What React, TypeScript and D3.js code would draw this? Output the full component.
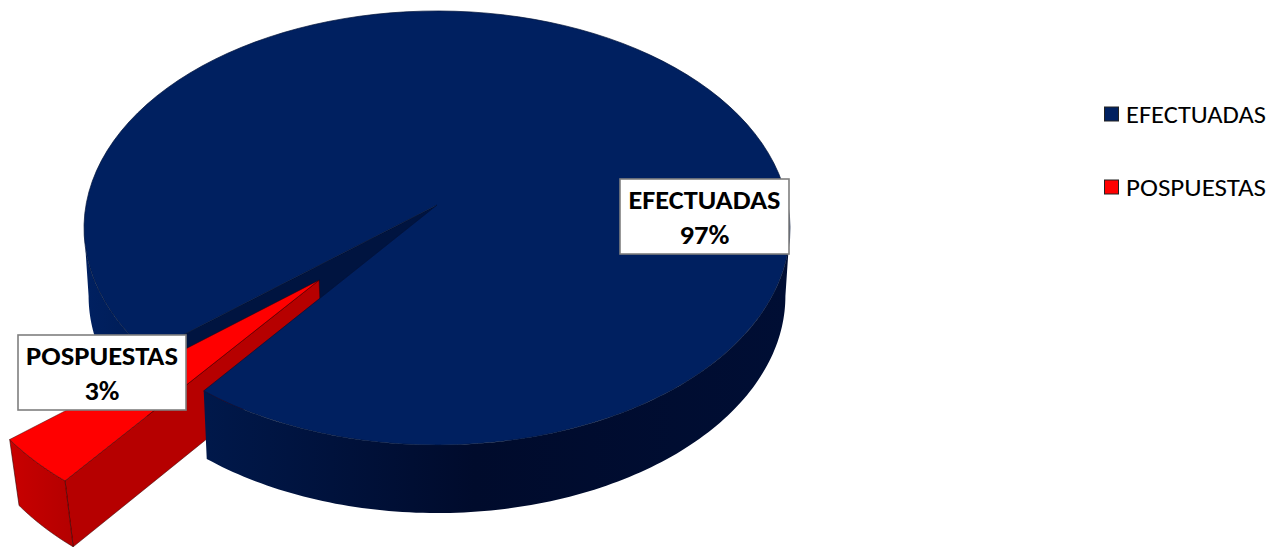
import React from "react";
import * as d3 from "d3";

const categories = ["EFECTUADAS", "POSPUESTAS"];
const values = [96.5, 3.5];
const percentLabels = ["97%", "3%"];
const topColors = ["#002060", "#FF0000"];

const W = 1272, H = 547;
const cx = 437, cy = 205, R = 351, S = 214.6, K = 0.106;
const explode = 0.468;
const FONT = "Carlito, Calibri, Lato, sans-serif";

const pieGen = d3.pie<number>().sort(null).startAngle((230.1 * Math.PI) / 180).endAngle((230.1 * Math.PI) / 180 + 2 * Math.PI);
const slices = pieGen(values);

type P = [number, number];
type Lift = { shrink: number; depth: number };
const NAVY_LIFT: Lift = { shrink: 0.987, depth: 68 };
const RED_LIFT: Lift = { shrink: 0.978, depth: 66 };

const project = (u: number, v: number, low?: Lift): P => {
  const w = 1 - K * v;
  const x = (R * u) / w, y = (S * v) / w;
  return low ? [cx + x * low.shrink, cy + y + low.depth] : [cx + x, cy + y];
};
const ringPoint = (a: number, low?: Lift, ou = 0, ov = 0): P => project(Math.sin(a) + ou, -Math.cos(a) + ov, low);
const arcPts = (a0: number, a1: number, low?: Lift, ou = 0, ov = 0): P[] =>
  d3.range(0, 121).map((i) => ringPoint(a0 + ((a1 - a0) * i) / 120, low, ou, ov));
const line = d3.line<P>().curve(d3.curveLinear);
const closed = (pts: P[]) => line(pts) + "Z";

const [navy, red] = slices;
const mid = (red.startAngle + red.endAngle) / 2;
const ou = Math.sin(mid) * explode, ov = -Math.cos(mid) * explode;

// silhouette angles of the perspective ellipse
const leftExtreme = 1.5 * Math.PI - Math.asin(K);
const rightExtreme = 2.5 * Math.PI + Math.asin(K);

const navyTop = closed([project(0, 0), ...arcPts(navy.startAngle, navy.endAngle)]);
const navyWall = (a0: number, a1: number) => closed([...arcPts(a0, a1), ...arcPts(a0, a1, NAVY_LIFT).reverse()]);
const navyLeft = navyWall(navy.startAngle, leftExtreme);
const navyFront = navyWall(rightExtreme, navy.endAngle);
const navyCut = closed([project(0, 0), ringPoint(navy.startAngle), ringPoint(navy.startAngle, NAVY_LIFT), project(0, 0, NAVY_LIFT)]);

const redTop = closed([project(ou, ov), ...arcPts(red.startAngle, red.endAngle, undefined, ou, ov)]);
const redOuter = closed([...arcPts(red.startAngle, red.endAngle, undefined, ou, ov), ...arcPts(red.startAngle, red.endAngle, RED_LIFT, ou, ov).reverse()]);
const redSide = closed([project(ou, ov), ringPoint(red.startAngle, undefined, ou, ov), ringPoint(red.startAngle, RED_LIFT, ou, ov), project(ou, ov, RED_LIFT)]);

const legendY = d3.scalePoint<string>().domain(categories).range([114, 187]);

const dataBoxes = [
  { x: 620, y: 179, w: 169, h: 75, nameW: 152, pctW: 50 },
  { x: 18, y: 335, w: 168, h: 75, nameW: 152, pctW: 35 },
];

export default function App() {
  return (
    <svg width={W} height={H} viewBox={`0 0 ${W} ${H}`} style={{ position: "absolute", left: 0, top: 0, display: "block", background: "#fff" }}>
      <defs>
        <linearGradient id="navyWall" gradientUnits="userSpaceOnUse" x1={88} x2={790} y1={0} y2={0}>
          <stop offset="0" stopColor="#002060" />
          <stop offset="0.17" stopColor="#00184A" />
          <stop offset="0.55" stopColor="#000B2C" />
          <stop offset="1" stopColor="#000E34" />
        </linearGradient>
        <linearGradient id="redWall" gradientUnits="userSpaceOnUse" x1={10} x2={72} y1={0} y2={0}>
          <stop offset="0" stopColor="#C80000" />
          <stop offset="1" stopColor="#B40000" />
        </linearGradient>
      </defs>
      <path d={navyLeft} fill="url(#navyWall)" />
      <path d={navyCut} fill="#001440" stroke="#000" strokeWidth={0.4} />
      <path d={redSide} fill="#B60000" stroke="#300" strokeWidth={0.5} />
      <path d={redOuter} fill="url(#redWall)" stroke="#300" strokeWidth={0.6} />
      <path d={redTop} fill={topColors[1]} stroke="#400" strokeWidth={0.5} />
      <path d={navyFront} fill="url(#navyWall)" />
      <path d={navyTop} fill={topColors[0]} stroke="#00123a" strokeWidth={0.7} />
      {categories.map((c, i) => {
        const b = dataBoxes[i];
        const mx = b.x + b.w / 2;
        return (
          <g key={c}>
            <rect x={b.x} y={b.y} width={b.w} height={b.h} fill="#fff" stroke="#7F7F7F" strokeWidth={1.6} />
            <text x={mx} y={b.y + 30} textAnchor="middle" fontFamily={FONT} fontWeight={700} fontSize={27} textLength={b.nameW} lengthAdjust="spacingAndGlyphs" fill="#000">{c}</text>
            <text x={mx} y={b.y + 65} textAnchor="middle" fontFamily={FONT} fontWeight={700} fontSize={27} textLength={b.pctW} lengthAdjust="spacingAndGlyphs" fill="#000">{percentLabels[i]}</text>
          </g>
        );
      })}
      {categories.map((c, i) => {
        const y = legendY(c)!;
        return (
          <g key={"l" + c}>
            <rect x={1104.5} y={y - 7} width={14} height={14} fill={topColors[i]} stroke="#222" strokeWidth={1} />
            <text x={1126} y={y + 9} fontFamily={FONT} fontSize={25} textLength={140} lengthAdjust="spacingAndGlyphs" fill="#000">{c}</text>
          </g>
        );
      })}
    </svg>
  );
}
